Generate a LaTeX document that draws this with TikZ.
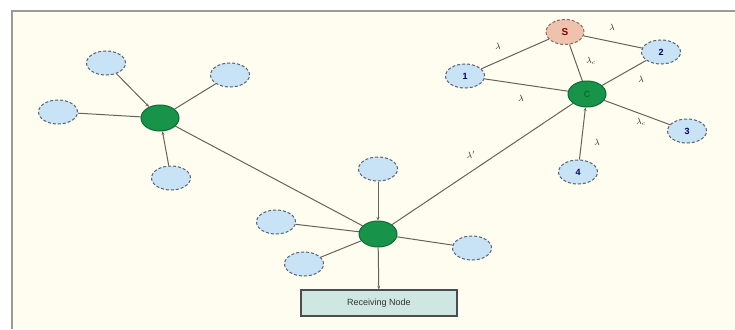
\documentclass[tikz,border=0pt]{standalone}
\usepackage{fontspec}
\setmainfont{Liberation Sans}
\usetikzlibrary{arrows.meta,shapes.geometric}
\definecolor{paper}{HTML}{FFFDEF}
\definecolor{frame}{HTML}{9A9A9A}
\definecolor{satfill}{HTML}{C9E3F6}
\definecolor{satline}{HTML}{55636F}
\definecolor{hubfill}{HTML}{17944A}
\definecolor{hubline}{HTML}{0E6A32}
\definecolor{srcfill}{HTML}{EFC2AE}
\definecolor{srcline}{HTML}{8A6A5E}
\definecolor{linkcol}{HTML}{67635A}
\definecolor{boxfill}{HTML}{CFE7E3}
\tikzset{
  sat/.style={ellipse, draw=satline, densely dashed, line width=1pt, fill=satfill,
    minimum width=39pt, minimum height=24pt, inner sep=0pt,
    font=\fontsize{9}{9}\selectfont\bfseries, text=blue!40!black},
  hub/.style={ellipse, draw=hubline, line width=1pt, fill=hubfill,
    minimum width=38pt, minimum height=26pt, inner sep=0pt,
    font=\fontsize{9}{9}\selectfont\bfseries, text=hubline},
  src/.style={ellipse, draw=srcline, densely dashed, line width=1pt, fill=srcfill,
    minimum width=38pt, minimum height=25pt, inner sep=0pt,
    font=\fontsize{10}{10}\selectfont\bfseries, text=red!55!black},
  link/.style={draw=linkcol, line width=1pt},
  feed/.style={link, -{Stealth[length=3.5pt,width=3pt]}},
  rate/.style={font=\fontsize{9}{9}\selectfont, text=black!85, inner sep=1pt},
  sinkbox/.style={draw=black!70, line width=1.2pt, fill=boxfill, minimum width=156pt,
    minimum height=26pt, font=\fontsize{9}{9}\selectfont, text=black!80}
}
\begin{document}
\begin{tikzpicture}[x=1pt, y=-1pt]
  \useasboundingbox (0,0) rectangle (735,329);
  % background and frame
  \fill[white] (0,0) rectangle (735,329);
  \fill[paper] (13,12) rectangle (735,329);
  \draw[frame, line width=2.5pt] (12,329) -- (12,11) -- (735,11);

  % left cluster
  \node[hub] (h1) at (160,118) {};
  \node[sat] (a1) at (106,63) {};
  \node[sat] (a2) at (230,75) {};
  \node[sat] (a3) at (58,112) {};
  \node[sat] (a4) at (171,178) {};

  % centre cluster
  \node[hub] (h2) at (378,234) {};
  \node[sat] (b1) at (378,169) {};
  \node[sat] (b2) at (276,222) {};
  \node[sat] (b3) at (304,264) {};
  \node[sat] (b4) at (472,248) {};
  \node[sinkbox] (rx) at (379,303) {Receiving Node};

  % right cluster
  \node[src] (s) at (565,32) {S};
  \node[sat] (n1) at (465,76) {1};
  \node[sat] (n2) at (661,52) {2};
  \node[hub] (c) at (587,94) {C};
  \node[sat] (n3) at (687,131) {3};
  \node[sat] (n4) at (578,172) {4};

  % links
  \draw[feed] (a1) -- (h1);
  \draw[link] (a2) -- (h1);
  \draw[link] (a3) -- (h1);
  \draw[feed] (a4) -- (h1);
  \draw[link] (h1) -- (h2);
  \draw[feed] (b1) -- (h2);
  \draw[link] (b2) -- (h2);
  \draw[link] (b3) -- (h2);
  \draw[link] (b4) -- (h2);
  \draw[feed] (h2) -- (rx);
  \draw[link] (c) -- (h2);
  \draw[link] (s) -- (n1);
  \draw[link] (s) -- (n2);
  \draw[link] (s) -- (c);
  \draw[link] (n1) -- (c);
  \draw[link] (n2) -- (c);
  \draw[link] (c) -- (n3);
  \draw[feed] (n4) -- (c);

  % rate labels
  \node[rate] (l1) at (498,46) {$\lambda$};
  \node[rate] (l2) at (612,27) {$\lambda$};
  \node[rate] (l3) at (591,61) {$\lambda_c$};
  \node[rate] (l4) at (641,79) {$\lambda$};
  \node[rate] (l5) at (521,98) {$\lambda$};
  \node[rate] (l6) at (641,122) {$\lambda_c$};
  \node[rate] (l7) at (597,142) {$\lambda$};
  \node[rate] (l8) at (471,155) {$\lambda'$};
\end{tikzpicture}
\end{document}
